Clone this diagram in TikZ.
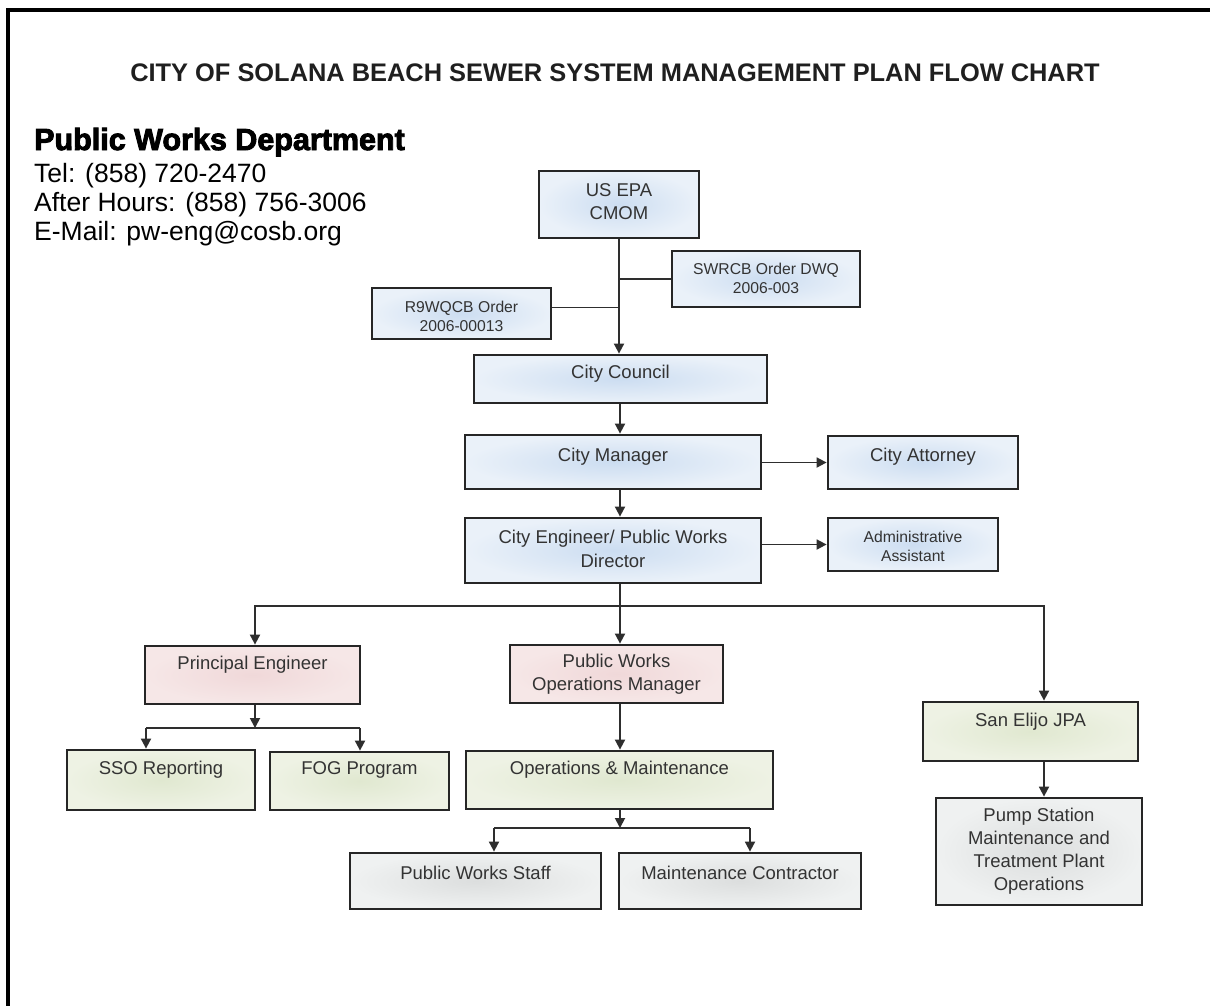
\documentclass[tikz,border=0pt]{standalone}
\usepackage{fontspec}
\setmainfont{Liberation Sans}
\newfontfamily\heavyfont{Liberation Sans}[BoldFeatures={FakeBold=3}]
\usetikzlibrary{arrows.meta}
\definecolor{boxline}{HTML}{262626}
\definecolor{conncol}{HTML}{2E2E2E}
\definecolor{txt}{HTML}{333333}
\definecolor{blueIn}{HTML}{CCDDF1}
\definecolor{blueOut}{HTML}{EAF1F9}
\definecolor{pinkIn}{HTML}{F0D8D9}
\definecolor{pinkOut}{HTML}{F6E7E7}
\definecolor{greenIn}{HTML}{E0E8D0}
\definecolor{greenOut}{HTML}{EEF2E4}
\definecolor{greyIn}{HTML}{DCDEDE}
\definecolor{greyOut}{HTML}{EFF1F1}
\begin{document}
\begin{tikzpicture}[x=1pt,y=-1pt,
  box/.style={draw=boxline, line width=2.8pt, rectangle, inner sep=0pt, shading=radial},
  bluebox/.style={box, inner color=blueIn, outer color=blueOut},
  pinkbox/.style={box, inner color=pinkIn, outer color=pinkOut},
  greenbox/.style={box, inner color=greenIn, outer color=greenOut},
  greybox/.style={box, inner color=greyIn, outer color=greyOut},
  lbl/.style={font=\fontsize{18.5}{23}\selectfont, text=txt, align=center, inner sep=0pt},
  small/.style={font=\fontsize{15.7}{19}\selectfont, text=txt, align=center, inner sep=0pt},
  hdr/.style={anchor=base west, inner sep=0pt, font=\fontsize{26.5}{29}\selectfont, text=black},
  conn/.style={draw=conncol, line width=1.8pt},
  arr/.style={conn, -{Triangle[width=10pt,length=10pt]}}
]
\useasboundingbox (0,0) rectangle (1210,1005);
\fill[white] (0,0) rectangle (1210,1005);
% frame
\draw[line width=4pt, line join=miter] (8,1010) -- (8,10) -- (1215,10);

% title and header
\node[anchor=base, inner sep=0pt, font=\bfseries\fontsize{25.4}{27}\selectfont, text=black!88] (title) at (615,81) {CITY OF SOLANA BEACH SEWER SYSTEM MANAGEMENT PLAN FLOW CHART};
\node[anchor=base west, inner sep=0pt, font=\heavyfont\bfseries\fontsize{30.5}{31}\selectfont] (dept) at (34,150) {Public Works Department};
\node[hdr] (tel) at (34,182) {Tel: (858) 720-2470};
\node[hdr] (after) at (34,211) {After Hours: (858) 756-3006};
\node[hdr] (mail) at (34,240) {E-Mail: pw-eng@cosb.org};

% boxes
\node[bluebox, minimum width=160pt, minimum height=67pt] (epa) at (619,204.5) {};
\node[lbl] (epaT) at (619,202) {US EPA\\CMOM};
\node[bluebox, minimum width=188pt, minimum height=56pt] (swrcb) at (766,279) {};
\node[small] (swrcbT) at (766,278.5) {SWRCB Order DWQ\\2006-003};
\node[bluebox, minimum width=179pt, minimum height=51pt] (r9) at (461.5,313.5) {};
\node[small] (r9T) at (461.5,316.5) {R9WQCB Order\\2006-00013};
\node[bluebox, minimum width=293pt, minimum height=48pt] (council) at (620.5,379) {};
\node[lbl] (councilT) at (620.5,374) {City Council};
\node[bluebox, minimum width=296pt, minimum height=54pt] (manager) at (613,462) {};
\node[lbl] (managerT) at (613,457) {City Manager};
\node[bluebox, minimum width=190pt, minimum height=53pt] (attorney) at (923,462.5) {};
\node[lbl] (attorneyT) at (923,457) {City Attorney};
\node[bluebox, minimum width=296pt, minimum height=65pt] (engineer) at (613,550.5) {};
\node[lbl, font=\fontsize{18.5}{24}\selectfont] (engineerT) at (613,549) {City Engineer/ Public Works\\Director};
\node[bluebox, minimum width=170pt, minimum height=53pt] (admin) at (913,544.5) {};
\node[small] (adminT) at (913,546) {Administrative\\Assistant};

\node[pinkbox, minimum width=215pt, minimum height=58pt] (principal) at (252.5,675) {};
\node[lbl] (principalT) at (252.5,665) {Principal Engineer};
\node[pinkbox, minimum width=213pt, minimum height=58pt] (pwops) at (616.5,674) {};
\node[lbl] (pwopsT) at (616.5,674.5) {Public Works\\Operations Manager};
\node[greenbox, minimum width=215pt, minimum height=59pt] (elijo) at (1030.5,731.5) {};
\node[lbl] (elijoT) at (1030.5,722) {San Elijo JPA};

\node[greenbox, minimum width=188pt, minimum height=60pt] (sso) at (161,780) {};
\node[lbl] (ssoT) at (161,770) {SSO Reporting};
\node[greenbox, minimum width=179pt, minimum height=58pt] (fog) at (359.5,781) {};
\node[lbl] (fogT) at (359.5,770) {FOG Program};
\node[greenbox, minimum width=307pt, minimum height=58pt] (om) at (619.5,780) {};
\node[lbl] (omT) at (619.5,770) {Operations \& Maintenance};

\node[greybox, minimum width=251pt, minimum height=56pt] (staff) at (475.5,881) {};
\node[lbl] (staffT) at (475.5,873) {Public Works Staff};
\node[greybox, minimum width=242pt, minimum height=56pt] (contractor) at (740,881) {};
\node[lbl] (contractorT) at (740,873) {Maintenance Contractor};
\node[greybox, minimum width=206pt, minimum height=107pt] (pump) at (1039,851.5) {};
\node[lbl] (pumpT) at (1039,851.5) {Pump Station\\Maintenance and\\Treatment Plant\\Operations};

% junction coordinates
\coordinate (spine) at (620,0);
\coordinate (bus) at (620,606);
\coordinate (busL) at (255,606);
\coordinate (busR) at (1044,606);
\coordinate (peL) at (146,728);
\coordinate (peR) at (360,728);
\coordinate (omL) at (494,828);
\coordinate (omR) at (750,828);
\coordinate (omJ) at (620,828);

% connectors
\draw[arr] (epa.south) -- (epa.south |- council.north);
\draw[conn] (swrcb.west) -- (swrcb.west -| epa.south);
\draw[conn] ([yshift=6pt]r9.east) -- ([yshift=6pt]r9.east -| epa.south);
\draw[arr] (spine |- council.south) -- (spine |- manager.north);
\draw[arr] (manager.east |- attorney.west) -- (attorney.west);
\draw[arr] (spine |- manager.south) -- (spine |- engineer.north);
\draw[arr] (engineer.east |- admin.west) -- (admin.west);
\draw[conn] (spine |- engineer.south) -- (bus);
\draw[arr] (bus) -- (busL) -- (busL |- principal.north);
\draw[arr] (bus) -- (bus |- pwops.north);
\draw[arr] (bus) -- (busR) -- (busR |- elijo.north);
\draw[arr] (principal.south -| busL) -- (busL |- peL);
\draw[conn] (peL) -- (peR);
\draw[arr] (peL) -- (peL |- sso.north);
\draw[arr] (peR) -- (peR |- fog.north);
\draw[arr] (spine |- pwops.south) -- (spine |- om.north);
\draw[arr] (spine |- om.south) -- (omJ);
\draw[conn] (omL) -- (omR);
\draw[arr] (omL) -- (omL |- staff.north);
\draw[arr] (omR) -- (omR |- contractor.north);
\draw[arr] (busR |- elijo.south) -- (busR |- pump.north);
\end{tikzpicture}
\end{document}
